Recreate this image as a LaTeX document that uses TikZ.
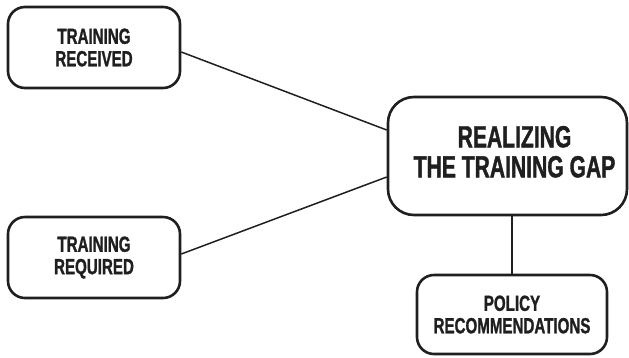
\documentclass[tikz,border=0pt]{standalone}
\usepackage{fontspec}
\newfontfamily\cond[FakeStretch=0.69, BoldFeatures={FakeBold=1.2}]{Liberation Sans}
\begin{document}
\begin{tikzpicture}[x=1bp,y=-1bp,
  box/.style={draw=black!88, line width=2.6bp, rounded corners=17bp, align=center,
    inner sep=0pt, font=\cond\bfseries\fontsize{22}{22.5}\selectfont, text=black!88},
  bigbox/.style={box, rounded corners=26bp, font=\cond\bfseries\fontsize{30.7}{29}\selectfont},
  link/.style={draw=black!88, line width=1.5bp}]
\useasboundingbox (0,0) rectangle (629,357);
\node[box, minimum width=172bp, minimum height=81bp] (r1) at (94,47.5) {TRAINING\\RECEIVED};
\node[box, minimum width=172bp, minimum height=81bp] (r2) at (94,257.5) {TRAINING\\REQUIRED};
\node[bigbox, minimum width=239bp, minimum height=118bp] (big) at (507.5,156)
  {\hspace*{14bp}\begin{tabular}{@{}c@{}}REALIZING\\THE TRAINING GAP\end{tabular}};
\node[box, minimum width=190bp, minimum height=79bp] (pol) at (512,314.5) {POLICY\\RECOMMENDATIONS};
\draw[link] ([yshift=-4.5bp]r1.east) -- ([yshift=26bp]big.west);
\draw[link] ([yshift=3.5bp]r2.east) -- ([yshift=-21bp]big.west);
\draw[link] (big.south -| pol.north) -- (pol.north);
\end{tikzpicture}
\end{document}
